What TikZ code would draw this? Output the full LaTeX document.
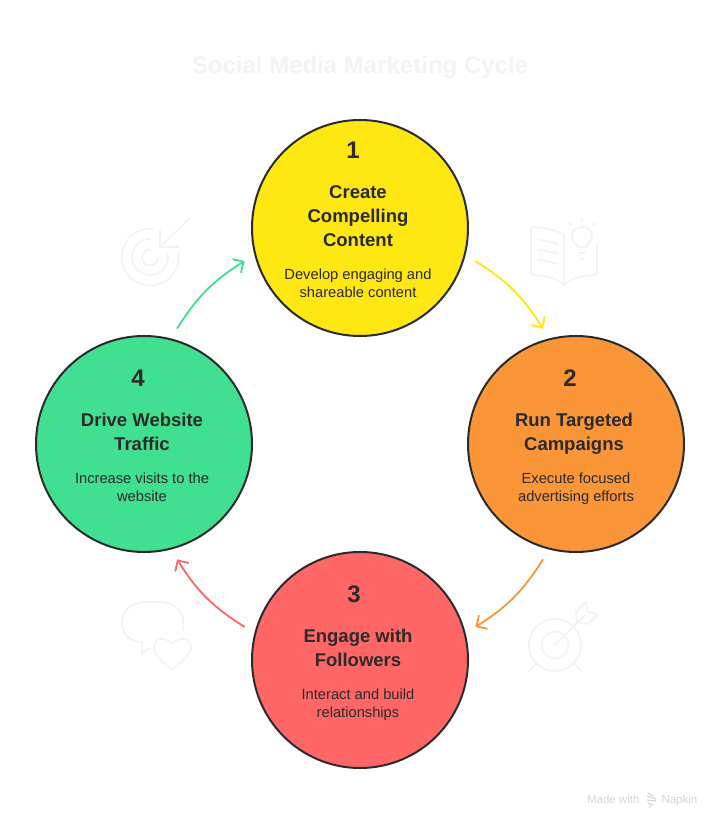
\documentclass[tikz,border=0pt]{standalone}
\usepackage{fontspec}
\setmainfont{Liberation Sans}
\usetikzlibrary{arrows.meta}
\definecolor{encre}{HTML}{2B2B2B}
\definecolor{jaune}{HTML}{FFE711}
\definecolor{orange}{HTML}{FA9637}
\definecolor{rouge}{HTML}{FF6666}
\definecolor{vert}{HTML}{40E090}
\definecolor{pale}{HTML}{F3F3F3}
\definecolor{signature}{HTML}{D4D4D4}
\begin{document}
\begin{tikzpicture}[
    x=1pt, y=1pt,
    % Cercles : les ancres sont 12pt au-dela du trait
    etape/.style={circle, draw=encre, line width=2pt, minimum size=216pt, inner sep=0pt, outer sep=12pt},
    numero/.style={text=encre, font=\fontsize{24}{24}\selectfont\bfseries},
    titre/.style={text=encre, align=center, font=\fontsize{18.5}{24}\selectfont\bfseries},
    detail/.style={text=encre, align=center, font=\fontsize{14.7}{18}\selectfont},
    fleche/.style={line width=1.8pt, -{Straight Barb[length=8pt,width=16pt,line width=1.8pt]}},
    icone/.style={draw=pale, line width=1.8pt, line cap=round, line join=round}
]
\useasboundingbox (0,0) rectangle (720,828);

\node[text=pale, font=\fontsize{24}{24}\selectfont\bfseries] (cycle) at (360,761) {Social Media Marketing Cycle};

% Cercles
\node[etape, fill=jaune] (create) at (360,600) {};
\node[etape, fill=orange] (run) at (576,384) {};
\node[etape, fill=rouge] (engage) at (360,168) {};
\node[etape, fill=vert] (drive) at (144,384) {};

% Textes
\node[numero] (num1) at (353,678) {1};
\node[titre] (titre1) at (358,612) {Create\\Compelling\\Content};
\node[detail] (detail1) at (358,545) {Develop engaging and\\shareable content};
\node[numero] (num2) at (570,450) {2};
\node[titre] (titre2) at (574,394) {Run Targeted\\Campaigns};
\node[detail] (detail2) at (576,339) {Execute focused\\advertising efforts};
\node[numero] (num3) at (354,234) {3};
\node[titre] (titre3) at (358,180) {Engage with\\Followers};
\node[detail] (detail3) at (358,123) {Interact and build\\relationships};
\node[numero] (num4) at (138,450) {4};
\node[titre] (titre4) at (142,396) {Drive Website\\Traffic};
\node[detail] (detail4) at (142,341) {Increase visits to the\\website};

% Fleches
\draw[fleche, jaune] (create.-16) to[out=-32, in=122] (run.106);
\draw[fleche, orange] (run.-106) to[out=-122, in=32] (engage.16);
\draw[fleche, rouge] (engage.164) to[out=148, in=-58] (drive.-74);
\draw[fleche, vert] (drive.74) to[out=58, in=-148] (create.196);

% Icones, en pixels depuis le haut
\begin{scope}[shift={(0,828)}, yscale=-1]
    % cible et fleche
    \draw[icone] (152.8,228.6) arc[start angle=-85, end angle=-370, radius=28.5];
    \draw[icone] (150,239) arc[start angle=-90, end angle=-370, radius=18];
    \draw[icone] (150,249.5) arc[start angle=-90, end angle=-360, radius=8];
    \draw[icone] (190,218) -- (160,247) (160,230) -- (160,247) -- (178,247);
    % livre et ampoule
    \draw[icone] (564,285) .. controls (556,277) and (545,276) .. (534,275) .. controls (532,275) and (531,274) .. (531,272) -- (531,230) .. controls (531,228) and (532,227) .. (534,227) .. controls (546,228) and (556,230) .. (564,235) -- (564,285) .. controls (572,277) and (583,276) .. (594,275) .. controls (596,275) and (597,274) .. (597,272) -- (597,246);
    \draw[icone] (538,240) .. controls (545,240.5) and (552,242) .. (558,244);
    \draw[icone] (538,250) .. controls (545,250.5) and (552,252) .. (558,254);
    \draw[icone] (538,260) .. controls (545,260.5) and (552,262) .. (558,264);
    \draw[icone] (577,245) .. controls (568,239) and (572,227) .. (582,227) .. controls (592,227) and (596,239) .. (587,245) -- (587,247) -- (577,247) -- cycle;
    \draw[icone] (579,253) -- (585,253) (580,259) -- (584,259);
    \draw[icone] (582,218) -- (582,220) (569,223) -- (571,225) (595,223) -- (593,225);
    % cible et fleche plantee
    \draw[icone] (555,645) circle[radius=26];
    \draw[icone] (555,645) circle[radius=13.5];
    \draw[icone] (555,645) -- (585,615);
    \draw[icone] (576,612) -- (586,602) -- (588,612) -- (598,614) -- (588,624) -- (577,622) -- cycle;
    \draw[icone] (537,663) -- (529,671) (574,663) -- (581,671);
    % bulle et coeur
    \draw[icone] (183,630) .. controls (186,615) and (177,602) .. (160,602) -- (147,602) .. controls (130,602) and (122,612) .. (122,622) .. controls (122,634) and (130,642) .. (142,642) -- (142,654) -- (149,648);
    \draw[icone] (172,644) .. controls (165,636) and (154,637) .. (154,648) .. controls (154,655) and (165,664) .. (172,670) .. controls (179,664) and (191,655) .. (191,648) .. controls (191,637) and (179,636) .. (172,644) -- cycle;
\end{scope}

% Signature
\node[text=signature, font=\fontsize{11.5}{11.5}\selectfont, anchor=base east] (made) at (643,24) {Made with};
\node[text=signature, font=\fontsize{11.5}{11.5}\selectfont, anchor=base west] (napkin) at (658,24) {Napkin};
\draw[signature, line width=1.2pt] (648,35) -- (653,32) (647,32) -- (656,29) (647,28) -- (656,27) (648,25) -- (653,23) (649,21.5) -- (651,21);
\end{tikzpicture}
\end{document}
